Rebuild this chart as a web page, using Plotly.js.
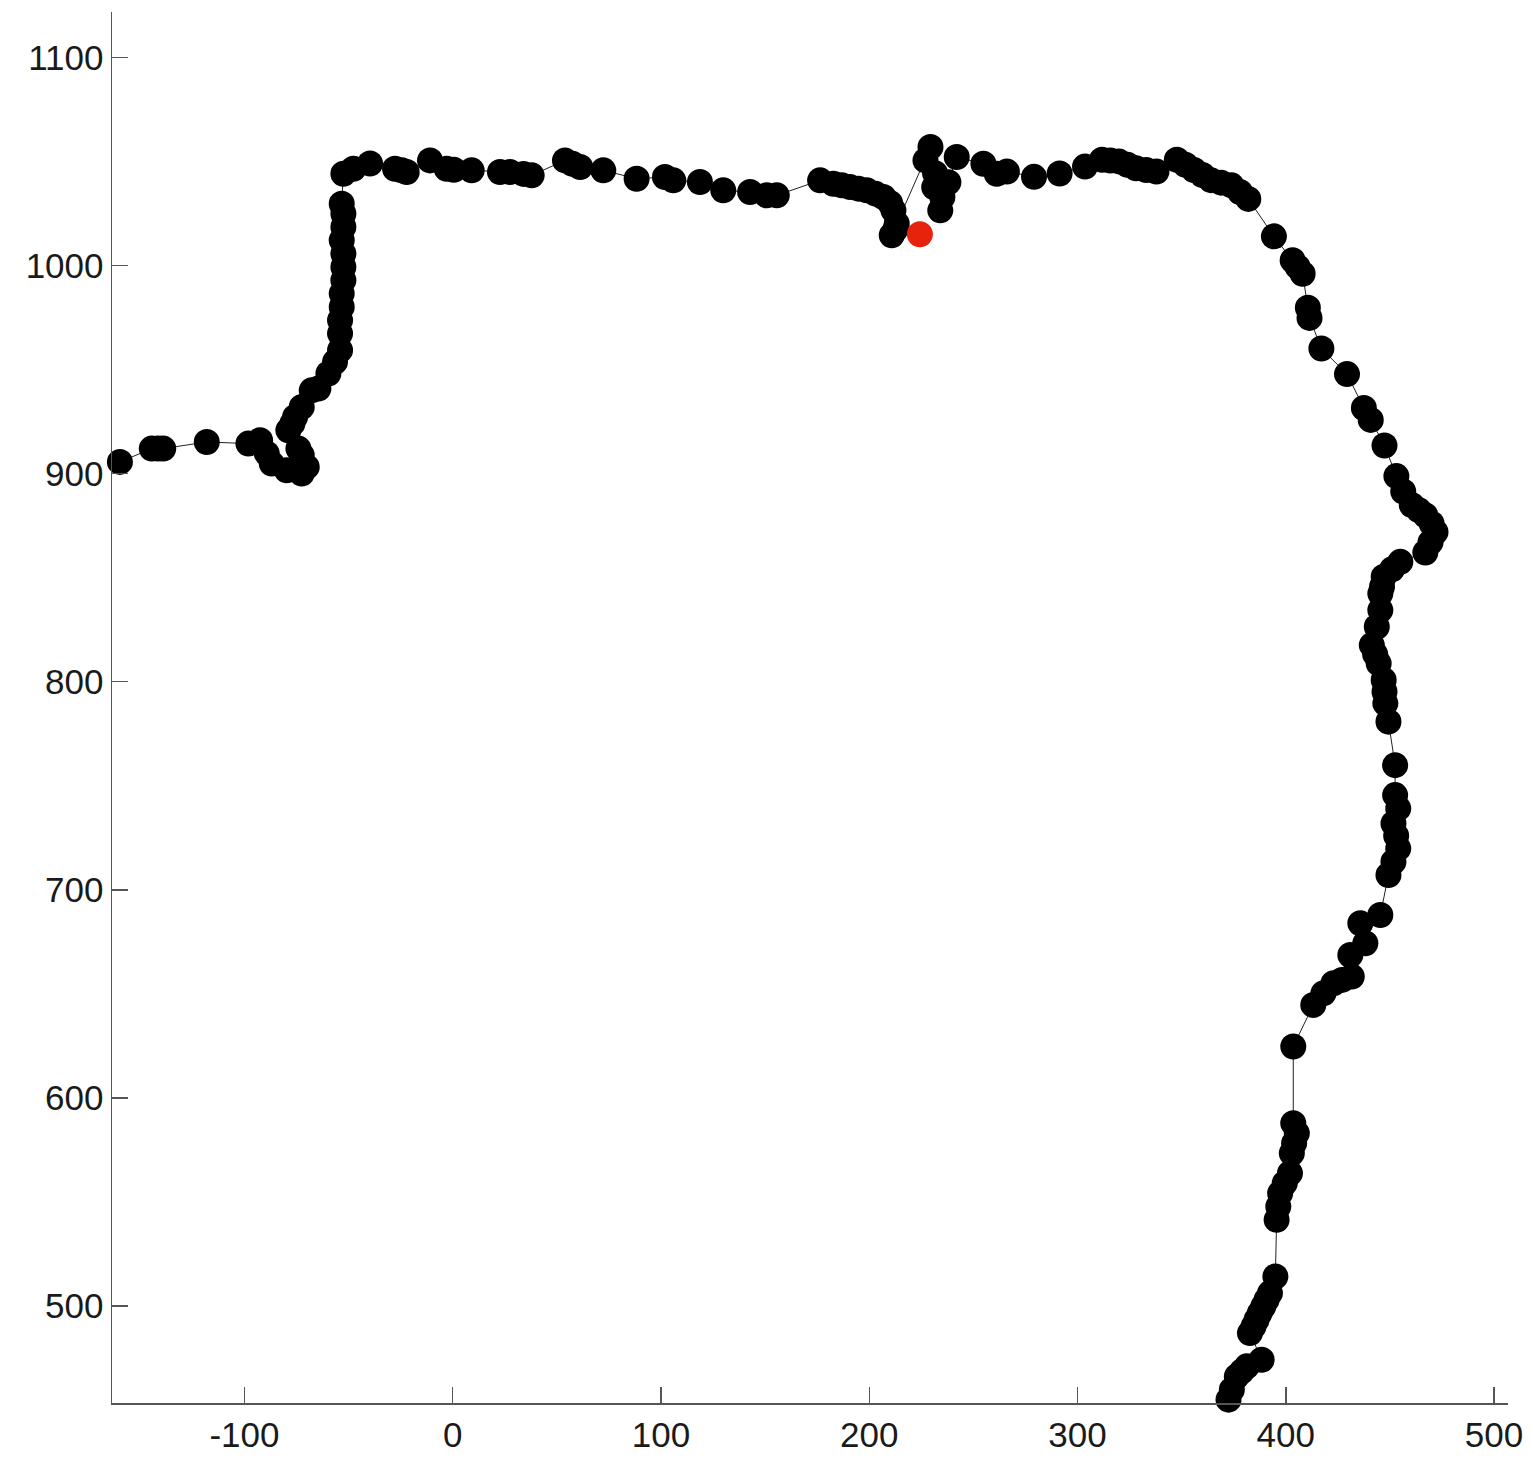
<!DOCTYPE html>
<html>
<head>
<meta charset="utf-8">
<script src="https://cdn.plot.ly/plotly-3.0.1.min.js"></script>
<style>html,body{margin:0;padding:0;background:#fff;}#chart{width:1533px;height:1459px;}</style>
</head>
<body>
<div id="chart"></div>
<script>
// Trajectory points (x, y), in path order
const pathX = [
 -159.8,-144.5,-141.5,-139.0,-118.1,-98.1,-92.5,-89.3,-86.9,-79.7,-72.5,-70.1,-72.5,-74.1,
 -78.9,-77.0,-75.7,-72.5,-67.7,-64.5,-59.7,-56.5,-54.1,-54.1,-54.1,-53.3,-53.3,-52.5,-52.5,-52.5,-53.3,-52.5,-52.5,-53.3,
 -52.5,-47.7,-39.7,-27.7,-24.5,-22.1,-10.9,-2.9,0.5,9.1,22.7,27.5,34.0,37.9,53.9,57.5,61.2,72.3,88.3,101.9,105.9,118.7,129.9,142.8,150.8,155.6,
 176.4,182.8,186.8,190.8,194.8,198.8,203.0,206.8,210.0,211.6,213.2,212.5,210.8,
 229.4,227.0,231.6,231.2,235.1,234.1,238.0,
 242.0,254.8,261.2,266.1,279.1,291.4,303.6,311.8,315.8,319.9,324.0,328.1,333.0,337.9,347.7,351.8,355.9,360.0,364.1,369.0,373.9,378.0,382.0,
 394.3,403.3,405.7,408.1,410.6,411.4,417.1,429.4,437.5,440.8,447.4,453.1,456.4,460.5,463.8,467.0,470.0,471.9,469.5,467.0,
 455.0,451.0,447.0,446.2,445.4,445.4,443.7,441.3,442.9,444.6,447.0,447.4,447.8,449.3,452.5,452.5,454.0,451.7,453.0,454.0,451.7,449.3,
 445.4,435.8,438.2,431.0,431.7,427.0,422.9,418.1,413.2,403.6,
 403.6,405.3,404.0,402.9,402.0,399.5,397.3,396.4,395.6,395.0,392.4,390.8,389.2,387.5,386.0,384.5,382.8,388.4,381.3,378.9,376.5,374.1,372.5
];
const pathY = [
 905.6,912.0,912.0,912.0,915.2,914.4,916.0,909.7,904.8,901.6,900.0,903.2,908.8,912.0,
 920.8,924.0,927.2,932.0,940.0,940.9,948.1,953.7,959.3,967.3,973.7,980.1,986.5,992.9,999.3,1005.7,1012.1,1018.5,1024.9,1029.7,
 1044.1,1046.5,1049.0,1046.5,1045.7,1044.9,1050.5,1046.5,1046.0,1045.7,1044.9,1044.9,1044.0,1043.3,1050.5,1048.9,1047.3,1045.7,1041.7,1042.5,1040.9,1040.1,1036.1,1035.3,1033.7,1033.7,
 1040.9,1039.3,1038.5,1037.7,1036.9,1036.1,1034.5,1032.9,1030.0,1026.5,1020.1,1017.3,1014.5,
 1056.9,1050.5,1044.3,1037.6,1032.8,1026.5,1040.0,
 1052.1,1048.9,1044.1,1045.1,1042.6,1044.2,1047.5,1050.8,1050.4,1050.0,1048.4,1046.7,1045.9,1045.1,1050.8,1048.4,1045.9,1043.5,1041.0,1039.8,1038.5,1035.3,1032.0,
 1014.0,1002.5,999.3,996.0,979.7,974.8,960.1,947.8,931.5,925.8,913.5,898.8,891.4,884.9,882.5,880.0,876.0,871.9,867.0,862.1,
 857.6,854.0,850.4,845.6,842.4,834.4,826.4,817.6,813.2,808.8,800.8,795.2,789.6,780.8,759.9,745.5,739.1,731.9,726.0,719.9,713.5,707.1,
 687.9,683.9,674.3,668.7,658.3,656.7,655.1,650.3,644.7,624.7,
 587.8,583.0,578.2,573.4,563.8,559.0,554.2,547.8,541.4,514.2,506.2,503.0,499.8,496.6,493.4,490.2,487.0,474.2,471.0,468.6,466.2,459.8,455.0
];
// Highlighted position (red marker)
const markX = [224.3];
const markY = [1015.0];

const xTicks = [-100, 0, 100, 200, 300, 400, 500];
const yTicks = [500, 600, 700, 800, 900, 1000, 1100];

const traces = [
  {
    x: pathX, y: pathY, type: 'scatter', mode: 'lines+markers',
    line: {color: '#222', width: 1},
    marker: {color: '#000', size: 26, line: {width: 0}},
    cliponaxis: false, hoverinfo: 'skip'
  },
  {
    x: markX, y: markY, type: 'scatter', mode: 'markers',
    marker: {color: '#e8230d', size: 26, line: {width: 0}},
    cliponaxis: false, hoverinfo: 'skip'
  }
];

const axisCommon = {
  showgrid: false, zeroline: false, showline: true,
  linecolor: '#555', linewidth: 1.5, mirror: false,
  ticks: 'inside', ticklen: 16, tickwidth: 1.5, tickcolor: '#555',
  tickfont: {family: 'Liberation Sans, Arial, Helvetica, sans-serif', size: 35, color: '#1a1a1a'},
  fixedrange: true
};

const layout = {
  width: 1533, height: 1459,
  margin: {l: 112, r: 25, t: 12, b: 56, pad: 0},
  paper_bgcolor: '#fff', plot_bgcolor: '#fff',
  showlegend: false,
  xaxis: Object.assign({}, axisCommon, {range: [-163.6, 506.7], tickvals: xTicks, ticktext: xTicks.map(String)}),
  yaxis: Object.assign({}, axisCommon, {range: [453.4, 1121.8], tickvals: yTicks, ticktext: yTicks.map(String)})
};

Plotly.newPlot('chart', traces, layout, {displayModeBar: false, staticPlot: true});
</script>
</body>
</html>
